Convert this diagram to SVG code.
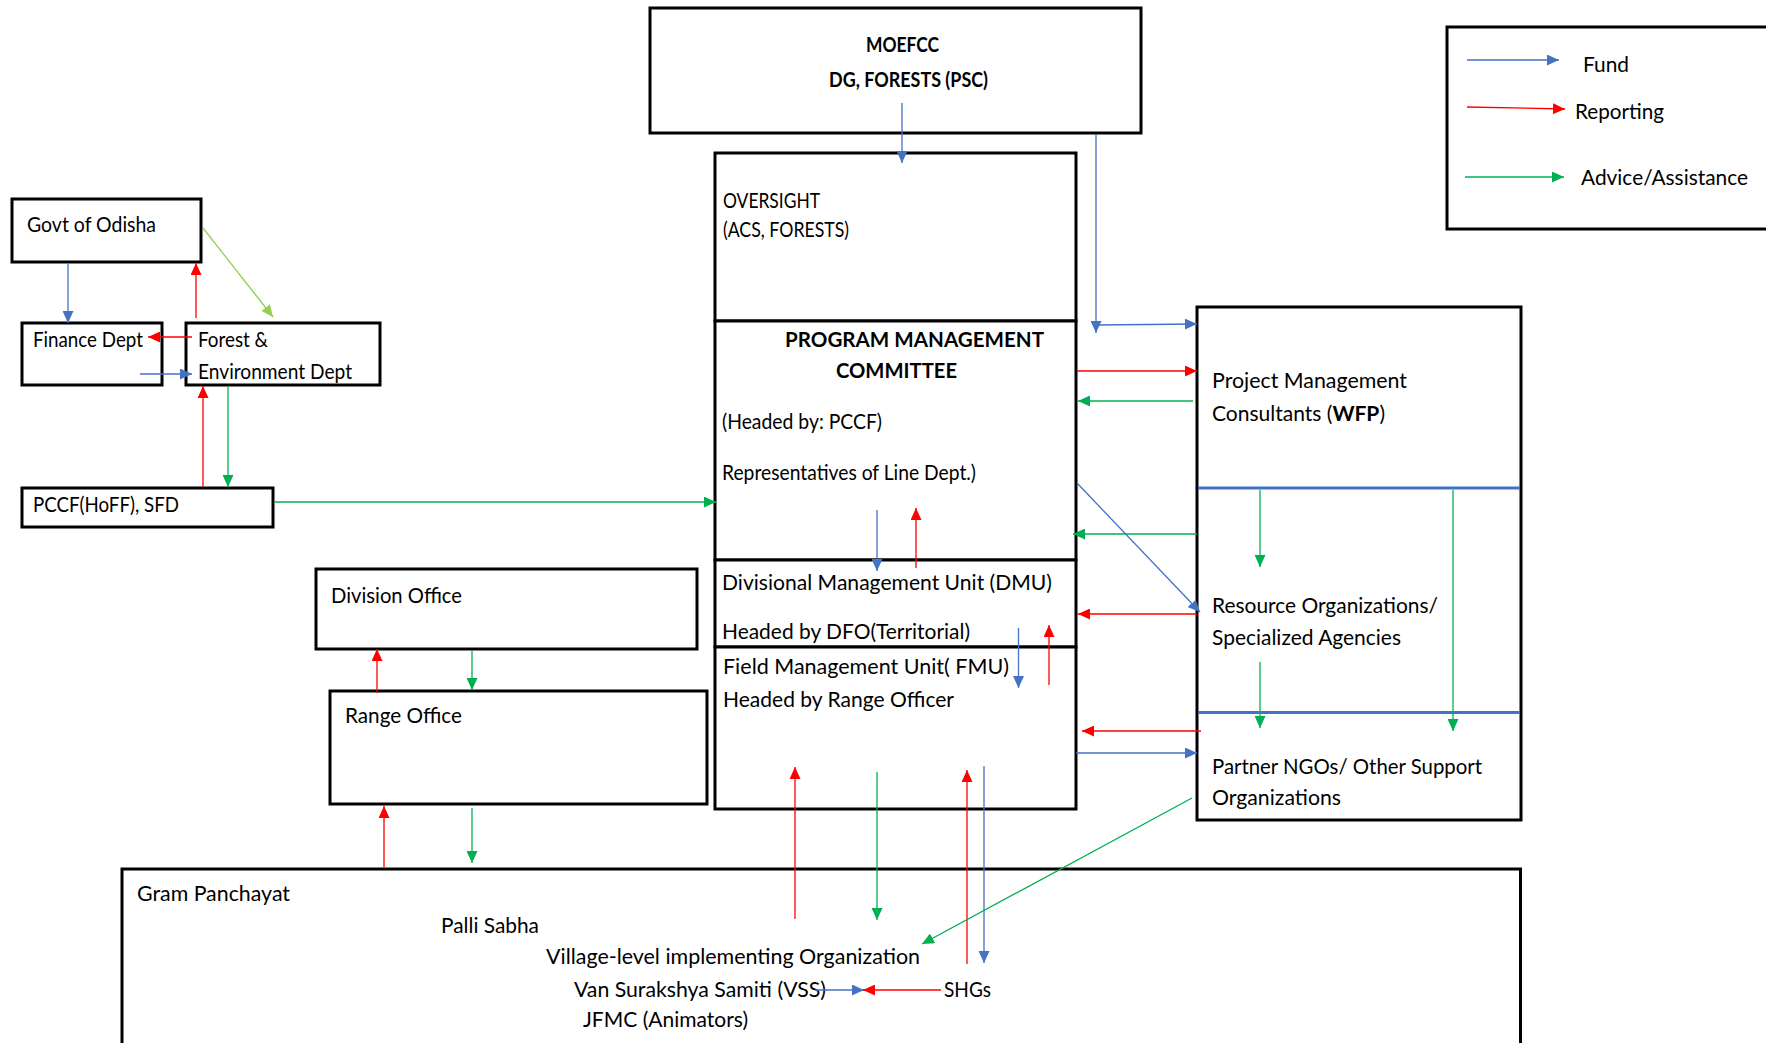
<svg xmlns="http://www.w3.org/2000/svg" width="1766" height="1043" viewBox="0 0 1766 1043">
<style>
.box{fill:#fff;stroke:#000;stroke-width:3}
.t{font-family:Lato,"Liberation Sans",sans-serif;font-size:21.5px;fill:#000}
.b{font-weight:bold}
.div{stroke:#4472C4;stroke-width:3}
.f{stroke:#4472C4;stroke-width:1.3;fill:none;marker-end:url(#ab)}
.r{stroke:#FF0000;stroke-width:1.3;fill:none;marker-end:url(#ar)}
.g{stroke:#00B050;stroke-width:1.3;fill:none;marker-end:url(#ag)}
.lg{stroke:#92D050;stroke-width:1.3;fill:none;marker-end:url(#alg)}
</style>
<defs>
<marker id="ab" markerUnits="userSpaceOnUse" markerWidth="12" markerHeight="11" refX="12" refY="5.5" orient="auto"><path d="M0,0 L12,5.5 L0,11 z" fill="#4472C4"/></marker>
<marker id="ar" markerUnits="userSpaceOnUse" markerWidth="12" markerHeight="11" refX="12" refY="5.5" orient="auto"><path d="M0,0 L12,5.5 L0,11 z" fill="#FF0000"/></marker>
<marker id="ag" markerUnits="userSpaceOnUse" markerWidth="12" markerHeight="11" refX="12" refY="5.5" orient="auto"><path d="M0,0 L12,5.5 L0,11 z" fill="#00B050"/></marker>
<marker id="alg" markerUnits="userSpaceOnUse" markerWidth="12" markerHeight="11" refX="12" refY="5.5" orient="auto"><path d="M0,0 L12,5.5 L0,11 z" fill="#92D050"/></marker>
</defs>
<rect width="1766" height="1043" fill="#fff"/>

<g id="govt-odisha"><rect class="box" x="12" y="199" width="189" height="63"/><text class="t" x="27" y="232" textLength="129" lengthAdjust="spacingAndGlyphs">Govt of Odisha</text></g>
<g id="finance-dept"><rect class="box" x="22" y="323" width="140" height="62"/><text class="t" x="33" y="347" textLength="110" lengthAdjust="spacingAndGlyphs">Finance Dept</text></g>
<g id="forest-env-dept"><rect class="box" x="186" y="323" width="194" height="62"/><text class="t" x="198" y="347" textLength="70" lengthAdjust="spacingAndGlyphs">Forest &amp;</text><text class="t" x="198" y="379" textLength="154" lengthAdjust="spacingAndGlyphs">Environment Dept</text></g>
<g id="pccf"><rect class="box" x="22" y="488" width="251" height="39"/><text class="t" x="33" y="512" textLength="146" lengthAdjust="spacingAndGlyphs">PCCF(HoFF),  SFD</text></g>
<g id="moefcc"><rect class="box" x="650" y="8" width="491" height="125"/><text class="t b" x="866" y="52" font-size="20" textLength="73" lengthAdjust="spacingAndGlyphs">MOEFCC</text><text class="t b" x="829" y="87" font-size="20" textLength="159" lengthAdjust="spacingAndGlyphs">DG, FORESTS (PSC)</text></g>
<g id="oversight"><rect class="box" x="715" y="153" width="361" height="168"/><text class="t" x="723" y="208" textLength="97" lengthAdjust="spacingAndGlyphs">OVERSIGHT</text><text class="t" x="723" y="237" textLength="126" lengthAdjust="spacingAndGlyphs">(ACS, FORESTS)</text></g>
<g id="pmc"><rect class="box" x="715" y="321" width="361" height="239"/><text class="t b" x="785" y="347" font-size="22" textLength="259" lengthAdjust="spacingAndGlyphs">PROGRAM MANAGEMENT</text><text class="t b" x="836" y="378" font-size="22" textLength="121" lengthAdjust="spacingAndGlyphs">COMMITTEE</text><text class="t" x="722" y="429" textLength="160" lengthAdjust="spacingAndGlyphs">(Headed by:  PCCF)</text><text class="t" x="722" y="480" textLength="254" lengthAdjust="spacingAndGlyphs">Representatives of Line Dept.)</text></g>
<g id="dmu"><rect class="box" x="715" y="560" width="361" height="87"/><text class="t" x="722" y="590" textLength="330" lengthAdjust="spacingAndGlyphs">Divisional Management Unit (DMU)</text><text class="t" x="722" y="639" textLength="248" lengthAdjust="spacingAndGlyphs">Headed by  DFO(Territorial)</text></g>
<g id="fmu"><rect class="box" x="715" y="647" width="361" height="162"/><text class="t" x="723" y="674" textLength="286" lengthAdjust="spacingAndGlyphs">Field Management Unit(  FMU)</text><text class="t" x="723" y="707" textLength="231" lengthAdjust="spacingAndGlyphs">Headed by  Range Officer</text></g>
<g id="partners-panel"><rect class="box" x="1197" y="307" width="324" height="513"/><line class="div" x1="1198" y1="488" x2="1520" y2="488"/><line class="div" x1="1198" y1="712.5" x2="1520" y2="712.5"/></g>
<g id="pmc-consultants"><text class="t" x="1212" y="388" textLength="195" lengthAdjust="spacingAndGlyphs">Project Management</text><text class="t" x="1212" y="421" textLength="173" lengthAdjust="spacingAndGlyphs">Consultants  (<tspan class="b">WFP</tspan>)</text></g>
<g id="resource-orgs"><text class="t" x="1212" y="613" textLength="226" lengthAdjust="spacingAndGlyphs">Resource Organizations/</text><text class="t" x="1212" y="645" textLength="189" lengthAdjust="spacingAndGlyphs">Specialized Agencies</text></g>
<g id="partner-ngos"><text class="t" x="1212" y="774" textLength="270" lengthAdjust="spacingAndGlyphs">Partner NGOs/ Other Support</text><text class="t" x="1212" y="805" textLength="129" lengthAdjust="spacingAndGlyphs">Organizations</text></g>
<g id="division-office"><rect class="box" x="316" y="569" width="381" height="80"/><text class="t" x="331" y="603" textLength="131" lengthAdjust="spacingAndGlyphs">Division Office</text></g>
<g id="range-office"><rect class="box" x="330" y="691" width="377" height="113"/><text class="t" x="345" y="723" textLength="117" lengthAdjust="spacingAndGlyphs">Range Office</text></g>
<g id="gram-panchayat"><rect class="box" x="122" y="869" width="1398.5" height="200"/><text class="t" x="137" y="901" textLength="153" lengthAdjust="spacingAndGlyphs">Gram Panchayat</text><text class="t" x="441" y="933" textLength="98" lengthAdjust="spacingAndGlyphs">Palli Sabha</text><text class="t" x="546" y="964" textLength="374" lengthAdjust="spacingAndGlyphs">Village-level implementing Organization</text><text class="t" x="574" y="997" textLength="252" lengthAdjust="spacingAndGlyphs">Van Surakshya Samiti (VSS)</text><text class="t" x="583" y="1027" textLength="165" lengthAdjust="spacingAndGlyphs">JFMC (Animators)</text></g>
<g id="shgs"><text class="t" x="944" y="997" textLength="47" lengthAdjust="spacingAndGlyphs">SHGs</text></g>
<g id="legend"><rect class="box" x="1447" y="27" width="330" height="202"/><text class="t" x="1583" y="72" textLength="46" lengthAdjust="spacingAndGlyphs">Fund</text><text class="t" x="1575" y="119" textLength="89" lengthAdjust="spacingAndGlyphs">Reporting</text><text class="t" x="1581" y="185" textLength="167" lengthAdjust="spacingAndGlyphs">Advice/Assistance</text></g>

<g id="connectors">
<line class="f" x1="1467" y1="60" x2="1559" y2="60"/>
<line class="r" x1="1467" y1="107" x2="1565" y2="109"/>
<line class="g" x1="1465" y1="177" x2="1564" y2="177"/>

<line class="f" x1="68" y1="263" x2="68" y2="323"/>
<line class="f" x1="140" y1="374" x2="192" y2="374"/>
<line class="f" x1="902" y1="103" x2="902" y2="163"/>
<line class="f" x1="1096" y1="134" x2="1096" y2="333"/>
<line class="f" x1="1096" y1="325" x2="1197" y2="324"/>
<line class="f" x1="877" y1="510" x2="877" y2="571"/>
<line class="f" x1="1018.5" y1="628" x2="1018.5" y2="688"/>
<line class="f" x1="1077" y1="483" x2="1200" y2="612"/>
<line class="f" x1="1076" y1="753" x2="1197" y2="753"/>
<line class="f" x1="984" y1="766" x2="984" y2="963"/>
<line class="f" x1="815" y1="990" x2="864" y2="990"/>

<line class="r" x1="196" y1="318" x2="196" y2="263"/>
<line class="r" x1="192" y1="337" x2="148" y2="337"/>
<line class="r" x1="203" y1="487" x2="203" y2="386"/>
<line class="r" x1="1077" y1="371" x2="1197" y2="371"/>
<line class="r" x1="916" y1="568" x2="916" y2="508"/>
<line class="r" x1="1049" y1="685" x2="1049" y2="625"/>
<line class="r" x1="1197" y1="614" x2="1078" y2="614"/>
<line class="r" x1="1201" y1="731" x2="1082" y2="731"/>
<line class="r" x1="377" y1="693" x2="377" y2="649"/>
<line class="r" x1="384" y1="867" x2="384" y2="806"/>
<line class="r" x1="795" y1="919" x2="795" y2="767"/>
<line class="r" x1="967" y1="964" x2="967" y2="770"/>
<line class="r" x1="941" y1="990" x2="863" y2="990"/>

<line class="lg" x1="203" y1="228" x2="273" y2="317"/>
<line class="g" x1="228" y1="386" x2="228" y2="487"/>
<line class="g" x1="275" y1="502" x2="716" y2="502"/>
<line class="g" x1="1193" y1="401" x2="1078" y2="401"/>
<line class="g" x1="1197" y1="534" x2="1073" y2="534"/>
<line class="g" x1="1260" y1="490" x2="1260" y2="567"/>
<line class="g" x1="1453" y1="490" x2="1453" y2="731"/>
<line class="g" x1="1260" y1="662" x2="1260" y2="728"/>
<line class="g" x1="472" y1="651" x2="472" y2="690"/>
<line class="g" x1="472" y1="808" x2="472" y2="863"/>
<line class="g" x1="877" y1="772" x2="877" y2="920"/>
<line class="g" x1="1192" y1="798" x2="922" y2="944"/>
</g>
</svg>
